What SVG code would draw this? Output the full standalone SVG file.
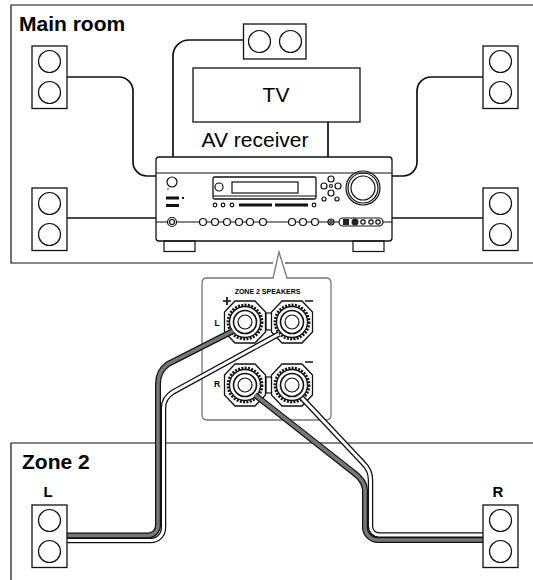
<svg xmlns="http://www.w3.org/2000/svg" width="533" height="580" viewBox="0 0 533 580">
<style>
.k{fill:none;stroke:#111;stroke-width:1.200}
.w{fill:#fff;stroke:#111;stroke-width:1.300}
.c{fill:none;stroke:#111;stroke-width:1.700}
.o{fill:#fff;stroke:#111;stroke-width:1.200}
.t{font-family:"Liberation Sans",Arial,sans-serif;fill:#000}
.b{font-weight:bold}
.cb{fill:none;stroke:#111;stroke-width:6}
.cg{fill:none;stroke:#777;stroke-width:3.500}
.cw{fill:none;stroke:#111;stroke-width:5.500}
.cf{fill:none;stroke:#fff;stroke-width:3}
</style>
<defs>
<g id="spk"><rect class="w" x="0" y="0" width="35" height="62.500"/><circle class="k" cx="17.500" cy="15.500" r="11"/><circle class="k" cx="17.500" cy="46.500" r="11"/></g>
<g id="term"><path class="w" d="M-10-21H10L20.500-10V10L10 21H-10L-20.500 10V-10Z"/><circle r="17" fill="none" stroke="#111" stroke-width="2.800" stroke-dasharray="2 1.300"/><circle class="w" r="15.500"/><circle r="11.500" fill="none" stroke="#111" stroke-width="1.600"/><circle class="k" r="7"/></g>
<path id="lg" d="M67 535.500H148A10 10 0 0 0 158 525.500V384Q158 371 168 364L233 331"/>
<path id="lw" d="M67 540.500H151A12.500 12.500 0 0 0 163.500 528V408Q163.500 398 173 392L279 334"/>
<path id="rw" d="M483 535H379A8.500 8.500 0 0 1 370.500 526.500V480Q370.500 470 363 463L302 398"/>
<path id="rg" d="M483 540H378A13 13 0 0 1 365 527V490Q365 481 353 472L255 395"/>
</defs>
<path id="main-room" class="k" d="M533 5H11V263H273M285 263H533"/>
<path id="zone-room" class="k" d="M11 580V443H533"/>
<g id="connectors">
<path class="c" d="M67 77H119A14 14 0 0 1 133 91V162A14 14 0 0 0 147 176H156"/>
<path class="c" d="M173 157V56A16 16 0 0 1 189 40H243"/>
<path class="c" d="M328 122V157"/>
<path class="c" d="M483 77H431A14 14 0 0 0 417 91V162A14 14 0 0 1 403 176H392"/>
<path class="c" d="M67 218H156M392 218H483"/>
</g>
<g id="tv"><rect class="w" x="193" y="68" width="167" height="54"/><text class="t" x="276" y="102" font-size="21" text-anchor="middle">TV</text></g>
<g id="top-speaker"><use href="#spk" transform="translate(306 24) rotate(90)"/></g>
<g id="av-label"><text class="t" x="255" y="147" font-size="21" text-anchor="middle">AV receiver</text></g>
<g id="receiver">
<rect class="w" x="156" y="157" width="236" height="84" rx="3"/>
<rect class="k" x="164" y="241" width="31" height="10.500"/><rect class="k" x="353" y="241" width="31" height="10.500"/>
<path class="k" d="M156 173H392M156 222H392"/>
<rect class="w" x="213" y="177" width="103" height="22" rx="1.500"/>
<path class="k" d="M213 196H316"/>
<circle class="k" cx="219" cy="187" r="4"/><rect class="k" x="232" y="182" width="66" height="11"/>
<circle class="k" cx="172" cy="182" r="5"/><circle cx="168" cy="189" r="0.800" fill="#111"/>
<circle class="k" cx="363" cy="188" r="17"/><circle class="k" cx="363" cy="188" r="15"/><circle class="k" cx="363" cy="188" r="12"/>
<rect x="166" y="196.500" width="13" height="3" fill="#111"/><rect x="166" y="204" width="13" height="3" fill="#111"/><rect x="182" y="197" width="2" height="2" fill="#111"/>
<rect x="239" y="203.500" width="33" height="3" fill="#111"/><rect x="275" y="203.500" width="33" height="3" fill="#111"/>
<circle class="k" cx="331" cy="179" r="3"/><circle class="k" cx="324" cy="186" r="3"/><circle class="k" cx="331" cy="186" r="1.500"/><circle class="k" cx="338" cy="186" r="3"/><circle class="k" cx="331" cy="193" r="3"/><circle class="k" cx="324" cy="199" r="2"/><circle class="k" cx="337" cy="199" r="2"/>
<circle class="k" cx="215" cy="205" r="1.800"/><circle class="k" cx="223" cy="205" r="1.800"/><circle class="k" cx="232" cy="205" r="1.800"/><circle class="k" cx="314" cy="205" r="1.800"/>
<circle class="o" cx="172" cy="222" r="4.500" stroke-width="2"/><circle class="k" cx="172" cy="222" r="2.500"/>
<circle class="o" cx="203" cy="222" r="3.500"/><circle class="o" cx="215" cy="222" r="3.500"/><circle class="o" cx="227" cy="222" r="3.500"/><circle class="o" cx="239" cy="222" r="3.500"/><circle class="o" cx="250" cy="222" r="3.500"/><circle class="o" cx="263" cy="222" r="3.500"/><circle class="o" cx="292" cy="222" r="3.500"/><circle class="o" cx="303" cy="222" r="3.500"/><circle class="o" cx="315" cy="222" r="3.500"/><circle class="o" cx="331" cy="222" r="3"/><circle class="k" cx="331" cy="222" r="1.300"/>
<rect class="o" x="339" y="218" width="44" height="8" rx="4"/><circle cx="355" cy="222" r="3.500" fill="#222"/><circle class="k" cx="363" cy="222" r="2.200"/><circle class="k" cx="371" cy="222" r="2.200"/><circle class="k" cx="378" cy="222" r="2.200"/>
<rect x="343" y="219" width="6" height="6" fill="#222"/>
</g>
<g id="zone2-panel">
<path d="M207 278H273L279 252L287 278H326Q331 278 331 283V415Q331 420 326 420H207Q202 420 202 415V283Q202 278 207 278Z" fill="#fff" stroke="#777" stroke-width="1.300"/>
<text class="t b" x="267.500" y="294" font-size="7" text-anchor="middle">ZONE 2 SPEAKERS</text>
<text class="t b" x="217" y="326" font-size="8.500" text-anchor="middle">L</text>
<text class="t b" x="217" y="387" font-size="8.500" text-anchor="middle">R</text>
<path class="c" d="M223 301H231M227 297V305M305 301H313M305 362H313"/>
<rect class="k" x="266" y="313" width="6" height="17"/><rect class="k" x="266" y="377" width="6" height="16"/>
<use href="#term" x="245" y="322"/><use href="#term" x="292" y="322"/>
<use href="#term" x="245" y="385"/><use href="#term" x="292" y="385"/>
</g>
<g id="cables">
<use href="#lg" class="cb"/><use href="#lg" class="cg"/>
<use href="#lw" class="cw"/><use href="#lw" class="cf"/>
<use href="#rw" class="cw"/><use href="#rw" class="cf"/>
<use href="#rg" class="cb"/><use href="#rg" class="cg"/>
</g>
<g id="spk-fl"><use href="#spk" x="32" y="46"/></g>
<g id="spk-fr"><use href="#spk" x="483" y="46"/></g>
<g id="spk-sl"><use href="#spk" x="32" y="188"/></g>
<g id="spk-sr"><use href="#spk" x="483" y="188"/></g>
<g id="spk-zl"><use href="#spk" x="32" y="505"/></g>
<g id="spk-zr"><use href="#spk" x="483" y="505"/></g>
<text class="t b" x="19" y="31" font-size="21">Main room</text>
<text class="t b" x="22" y="469" font-size="21">Zone 2</text>
<text class="t b" x="48" y="497" font-size="15" text-anchor="middle">L</text>
<text class="t b" x="498" y="497" font-size="15" text-anchor="middle">R</text>
</svg>
